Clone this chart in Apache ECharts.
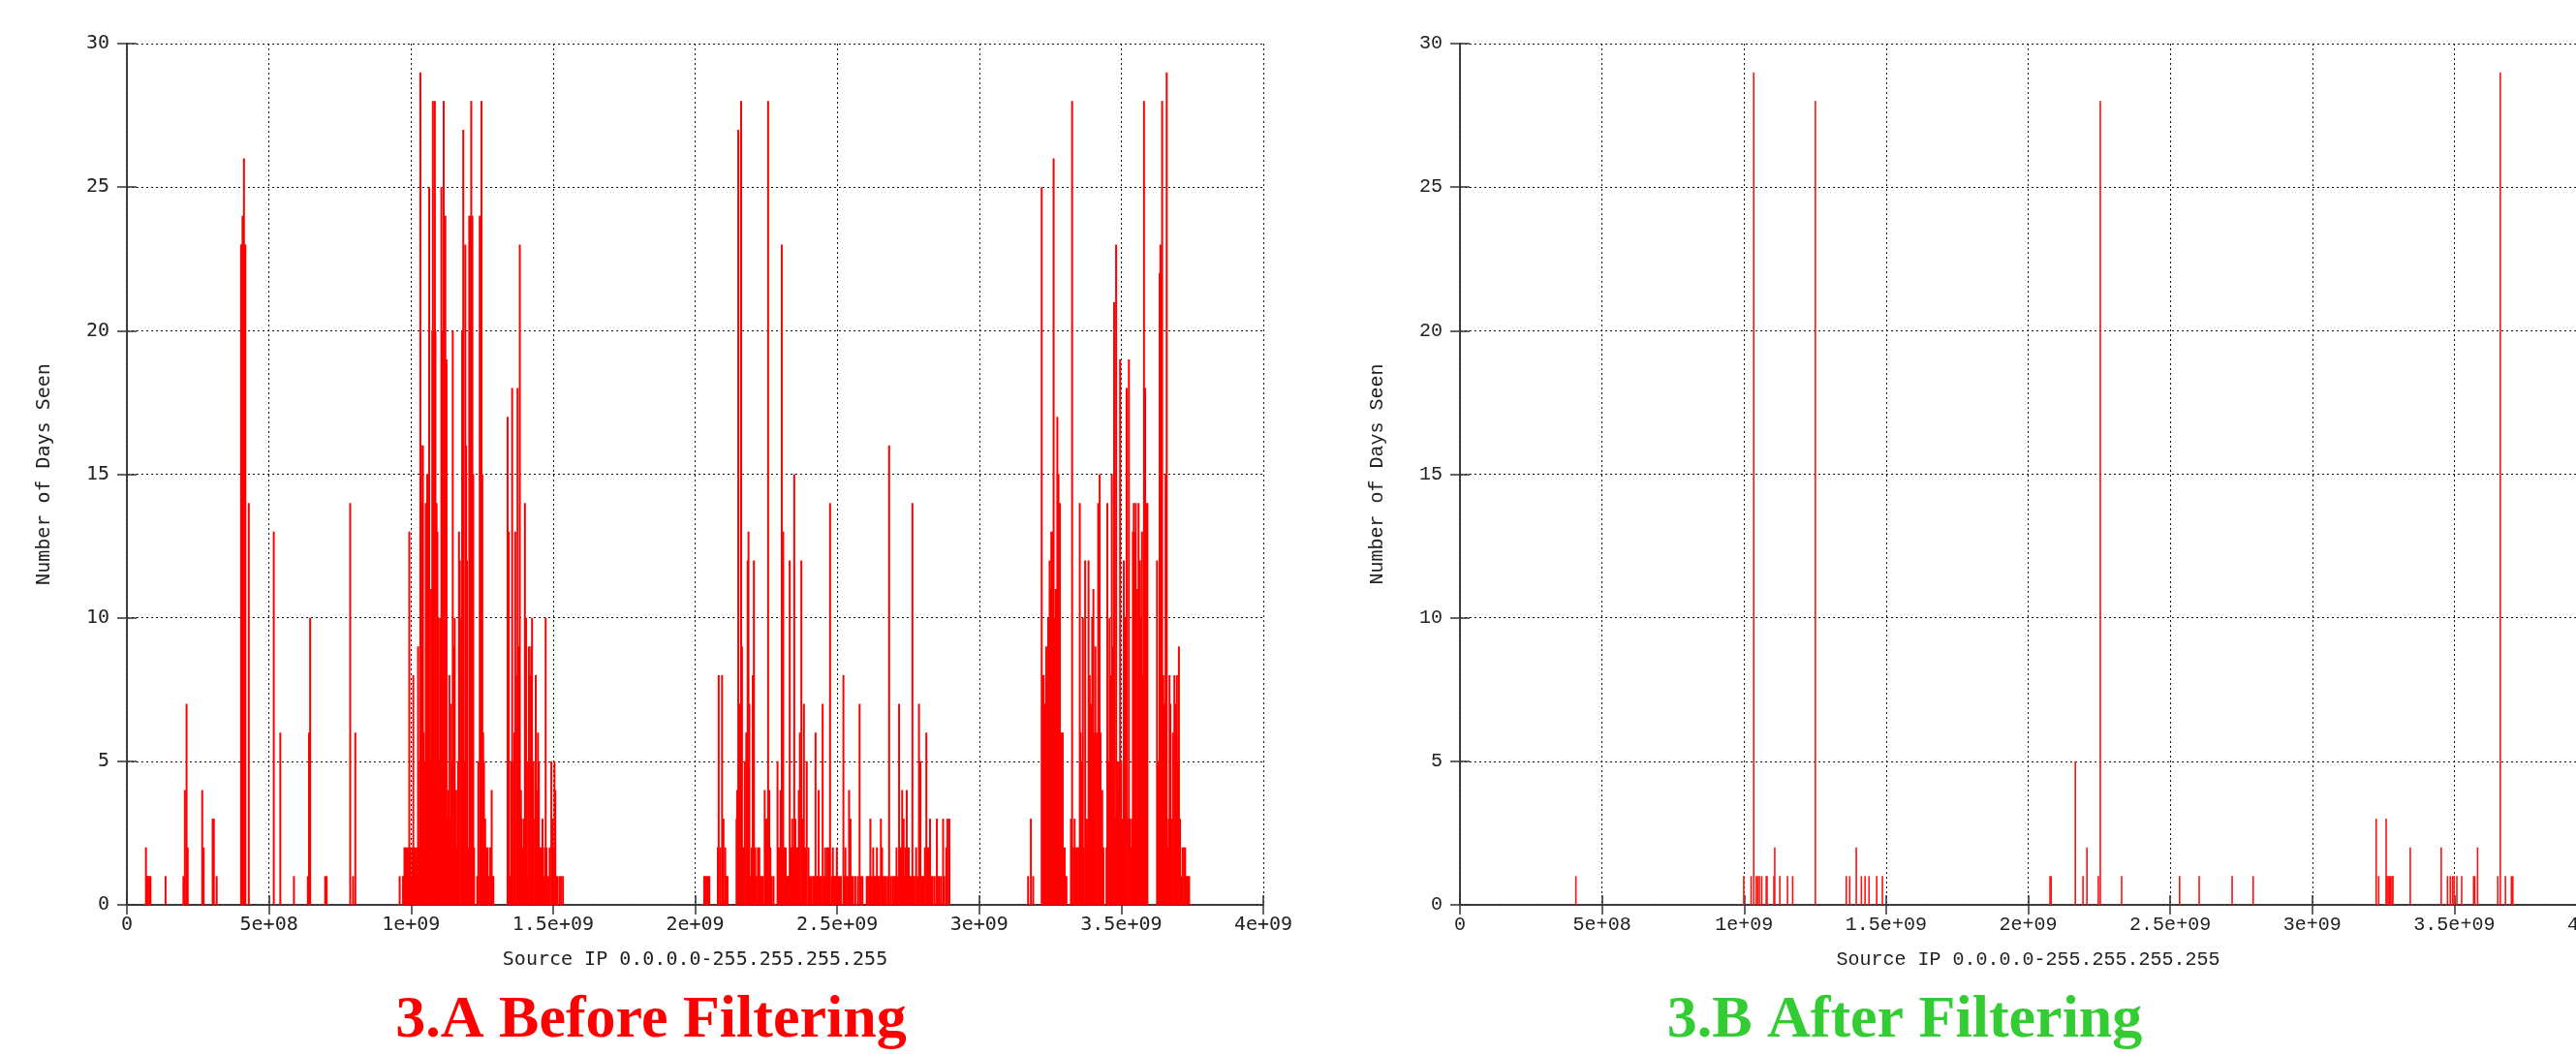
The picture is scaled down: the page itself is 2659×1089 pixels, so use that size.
<!DOCTYPE html>
<html><head><meta charset="utf-8">
<script src="https://cdn.jsdelivr.net/npm/echarts@6/dist/echarts.min.js"></script>
<style>html,body{margin:0;padding:0;background:#fff}#c{width:2659px;height:1089px}</style>
</head><body><div id="c"></div>
<script>
// Source IP in millions (1e6), value = number of days seen
const xTickStep = 500;          // 5e+08
const yTicks = [0, 5, 10, 15, 20, 25, 30];

const beforeLow = [
[67,2],[71,1],[74,1],[79,1],[83,1],[136,1],
[199,1],[204,4],[210,7],[214,2],[265,4],[270,2],[302,3],[306,3],[316,1],
[402,23],[404,23],[407,24],[409,23],[412,26],[415,23],[417,23],[429,14],
[517,13],[540,6],[588,1],[637,1],[641,6],[645,10],[698,1],[703,1],
[786,14],[796,1],[804,6]
];
const beforeC1 = [
[960,1],[972,1],[975,1],[977,2],[981,2],[984,2],[989,2],[991,1],[994,13],[998,2],[1002,1],[1005,2],[1008,8],[1011,2],[1015,2],[1018,1],[1020,2],[1025,9],[1028,2],[1031,5],[1033,29],[1036,16],[1039,14],[1042,16],[1045,6],[1049,5],[1052,14],[1057,15],[1060,15],[1064,25],[1068,5],[1071,11],[1075,20],[1077,28],[1081,20],[1084,28],[1086,20],[1090,14],[1093,13],[1096,10],[1100,5],[1102,10],[1107,25],[1111,20],[1115,28],[1118,24],[1121,24],[1125,19],[1128,3],[1132,4],[1135,8],[1137,3],[1141,7],[1144,5],[1147,20],[1151,9],[1154,10],[1159,4],[1162,2],[1166,5],[1169,13],[1172,12],[1177,10],[1180,20],[1184,27],[1187,5],[1191,23],[1194,16],[1197,12],[1202,2],[1205,24],[1209,24],[1212,28],[1216,24],[1219,15],[1222,2],[1233,1],[1237,5],[1242,24],[1245,5],[1248,28],[1251,15],[1254,6],[1257,5],[1261,3],[1265,2],[1270,2],[1274,1],[1279,2],[1284,4],[1287,1],[1290,1],
[1340,17],[1344,13],[1348,1],[1352,5],[1356,18],[1361,5],[1364,6],[1367,13],[1372,8],[1375,18],[1379,9],[1383,23],[1387,4],[1390,3],[1394,2],[1398,3],[1401,14],[1405,10],[1408,1],[1412,5],[1415,9],[1420,8],[1423,9],[1426,10],[1431,5],[1436,3],[1439,8],[1443,4],[1447,6],[1450,5],[1454,2],[1459,2],[1463,3],[1467,1],[1471,2],[1474,10],[1477,2],[1483,1],[1488,2],[1494,5],[1498,3],[1500,2],[1505,5],[1508,4],[1514,1],[1522,1],[1528,1],[1535,1]
];
const beforeC2 = [
[2032,1],[2036,1],[2041,1],[2046,1],[2050,1],
[2080,2],[2083,8],[2089,2],[2095,8],[2100,3],[2106,2],[2111,1],[2114,1],
[2146,3],[2148,4],[2152,27],[2155,7],[2158,7],[2162,28],[2165,9],[2169,2],[2172,2],[2175,5],[2180,6],[2185,12],[2188,13],[2191,7],[2196,1],[2199,2],[2203,8],[2207,12],[2212,2],[2216,1],[2221,2],[2226,2],[2230,1],[2235,1],[2239,1],[2245,4],[2248,3],[2253,3],[2257,28],[2261,4],[2265,2],[2270,1],[2276,1],
[2290,5],[2294,2],[2297,2],[2301,4],[2305,23],[2310,13],[2314,2],[2319,2],[2322,1],[2326,1],[2329,1],[2333,12],[2337,2],[2342,3],[2345,2],[2349,15],[2353,3],[2358,2],[2361,2],[2365,4],[2369,6],[2374,12],[2378,3],[2383,7],[2387,2],[2393,5],[2399,2],[2404,1],[2410,1],[2416,1],[2420,1],[2424,6],[2427,1],[2431,1],[2435,4],[2441,1],[2444,1],[2449,7],[2453,1],[2458,2],[2461,1],[2465,2],[2469,2],[2475,14],[2481,1],[2485,2],[2489,1],[2492,1],[2496,1],[2499,2],[2503,1],[2508,1],[2513,1],
[2522,8],[2525,1],[2529,2],[2533,1],[2538,1],[2542,4],[2547,3],[2551,1],[2556,1],[2564,1],[2573,1],[2579,7],[2584,1],[2589,1],[2604,1],[2608,1],[2613,1],[2617,3],[2622,1],[2627,2],[2631,1],[2636,1],[2640,2],[2645,1],[2649,1],[2654,3],[2658,2],[2663,1],[2668,1],[2672,1],[2678,1],[2683,16],[2689,1],[2695,1],[2701,1],[2705,1],[2709,2],[2713,1],[2718,7],[2722,2],[2727,2],[2729,4],[2734,3],[2737,1],[2740,2],[2745,4],[2748,1],[2752,2],[2756,1],[2761,1],[2765,14],[2769,1],[2772,1],[2778,2],[2783,1],[2788,7],[2793,5],[2796,1],[2800,1],[2804,1],[2809,2],[2814,6],[2820,2],[2824,2],[2827,3],[2832,1],[2836,1],[2843,1],[2851,3],[2854,1],[2860,1],[2866,1],[2873,3],[2877,1],[2884,2],[2888,3],[2895,3]
];
const beforeC3 = [
[3172,1],[3182,3],[3190,1],
[3220,25],[3224,8],[3227,8],[3230,7],[3234,7],[3236,9],[3241,8],[3243,10],[3248,12],[3251,11],[3254,13],[3259,13],[3262,26],[3266,10],[3269,11],[3273,11],[3275,17],[3279,15],[3284,14],[3287,6],[3291,6],[3294,6],[3298,2],[3301,2],[3307,1],
[3323,3],[3327,28],[3332,2],[3336,3],[3341,2],[3345,2],[3350,2],[3354,14],[3357,6],[3360,5],[3365,10],[3368,2],[3373,12],[3376,2],[3379,3],[3382,2],[3385,12],[3389,8],[3393,7],[3398,10],[3402,11],[3407,6],[3409,9],[3414,6],[3419,14],[3424,15],[3427,6],[3433,4],[3437,2],
[3448,2],[3451,14],[3455,5],[3459,10],[3463,8],[3467,15],[3470,9],[3475,21],[3480,3],[3482,23],[3485,5],[3489,4],[3492,5],[3496,19],[3500,5],[3505,3],[3509,12],[3513,10],[3516,9],[3519,18],[3524,3],[3527,19],[3531,3],[3534,2],[3538,3],[3541,13],[3544,14],[3548,13],[3551,14],[3555,3],[3557,11],[3561,14],[3566,12],[3569,10],[3573,13],[3576,8],[3580,28],[3584,18],[3589,14],[3592,14],
[3626,12],[3630,5],[3633,3],[3635,22],[3638,23],[3641,22],[3644,28],[3648,8],[3652,7],[3656,15],[3660,29],[3664,2],[3667,3],[3670,8],[3673,7],[3677,3],[3682,6],[3687,8],[3691,7],[3696,8],[3699,5],[3703,9],[3707,3],[3712,1],[3716,2],[3721,2],[3725,2],[3730,1],[3734,1],[3739,1]
];
const after = [
[408,1],[999,1],[1025,1],[1034,29],[1043,1],[1048,1],[1054,1],[1062,1],[1078,1],[1081,1],[1105,1],[1108,2],[1126,1],[1153,1],[1171,1],[1251,28],
[1360,1],[1372,1],[1395,2],[1413,1],[1426,1],[1440,1],[1467,1],[1487,1],
[2077,1],[2081,1],[2166,5],[2193,1],[2207,2],[2247,1],[2254,28],[2329,1],[2533,1],[2602,1],[2718,1],[2792,1],
[3225,3],[3234,1],[3260,3],[3263,1],[3267,1],[3271,1],[3276,1],[3281,1],[3284,1],[3345,2],[3454,2],[3476,1],[3486,1],[3494,1],[3499,1],[3509,1],[3526,1],[3568,1],[3572,1],[3582,2],[3653,1],[3662,29],[3680,1],[3701,1],[3706,1]
];
const titles = ['3.A Before Filtering', '3.B After Filtering'];
const xName = 'Source IP 0.0.0.0-255.255.255.255';
const yName = 'Number of Days Seen';

const before = beforeLow.concat(beforeC1, beforeC2, beforeC3);
const fmtX = v => v === 0 ? '0' : (v * 1e6).toExponential().replace(/e\+(\d)$/, 'e+0$1');

const chart = echarts.init(document.getElementById('c'));
const fonts = ['DejaVu Sans Mono', 'Liberation Mono'];
const grids = [
  {left: 131, top: 45, width: 1173, height: 889, outerBoundsMode: 'none', containLabel: false},
  {left: 1507, top: 45, width: 1173, height: 889, outerBoundsMode: 'none', containLabel: false}
];
const dotted = {color: '#111', width: 1, type: [2, 3]};
const xAxis = [], yAxis = [];
grids.forEach((g, i) => {
  const ff = fonts[i];
  xAxis.push({
    gridIndex: i, type: 'value', min: 0, max: 4000, interval: xTickStep, position: 'bottom',
    axisLine: {show: true, lineStyle: {color: '#333', width: 1.5}},
    axisTick: {show: true, inside: true, length: 10, lineStyle: {color: '#333', width: 1.5}},
    axisLabel: {formatter: fmtX, margin: 11, fontFamily: ff, fontSize: 20, color: '#222', hideOverlap: false},
    splitLine: {show: true, lineStyle: dotted},
    name: xName, nameLocation: 'middle', nameGap: 47,
    nameTextStyle: {fontFamily: ff, fontSize: 20, color: '#222'}
  });
  xAxis.push({
    gridIndex: i, type: 'value', min: 0, max: 4000, interval: xTickStep, position: 'top',
    axisLine: {show: true, lineStyle: {color: '#333', width: 1.5}},
    axisTick: {show: true, inside: true, length: 10, lineStyle: {color: '#333', width: 1.5}},
    axisLabel: {show: false}, splitLine: {show: false}
  });
  yAxis.push({
    gridIndex: i, type: 'value', min: yTicks[0], max: yTicks[yTicks.length - 1], interval: 5, position: 'left',
    axisLine: {show: true, lineStyle: {color: '#333', width: 1.5}},
    axisTick: {show: true, inside: true, length: 10, lineStyle: {color: '#333', width: 1.5}},
    axisLabel: {margin: 18, fontFamily: ff, fontSize: 20, color: '#222'},
    splitLine: {show: true, lineStyle: dotted},
    name: yName, nameLocation: 'middle', nameGap: 75, nameRotate: 90,
    nameTextStyle: {fontFamily: ff, fontSize: 20, color: '#222'}
  });
  yAxis.push({
    gridIndex: i, type: 'value', min: 0, max: 30, interval: 5, position: 'right',
    axisLine: {show: true, lineStyle: {color: '#333', width: 1.5}},
    axisTick: {show: true, inside: true, length: 10, lineStyle: {color: '#333', width: 1.5}},
    axisLabel: {show: false}, splitLine: {show: false}
  });
});

chart.setOption({
  animation: false,
  backgroundColor: '#fff',
  grid: grids,
  xAxis: xAxis,
  yAxis: yAxis,
  series: [
    {type: 'bar', xAxisIndex: 0, yAxisIndex: 0, data: before, barWidth: 2, silent: true,
     itemStyle: {color: '#ff0000'}},
    {type: 'bar', xAxisIndex: 2, yAxisIndex: 2, data: after, barWidth: 1.6, silent: true,
     itemStyle: {color: '#ff1010'}}
  ],
  graphic: [
    {type: 'text', x: 672, y: 1054, style: {text: titles[0], font: 'bold 62px "Liberation Serif"', fill: '#ff0000',
      textAlign: 'center', align: 'center', textVerticalAlign: 'middle', verticalAlign: 'middle'}},
    {type: 'text', x: 1966, y: 1054, style: {text: titles[1], font: 'bold 62px "Liberation Serif"', fill: '#33cc33',
      textAlign: 'center', align: 'center', textVerticalAlign: 'middle', verticalAlign: 'middle'}}
  ]
});
</script>
</body></html>
